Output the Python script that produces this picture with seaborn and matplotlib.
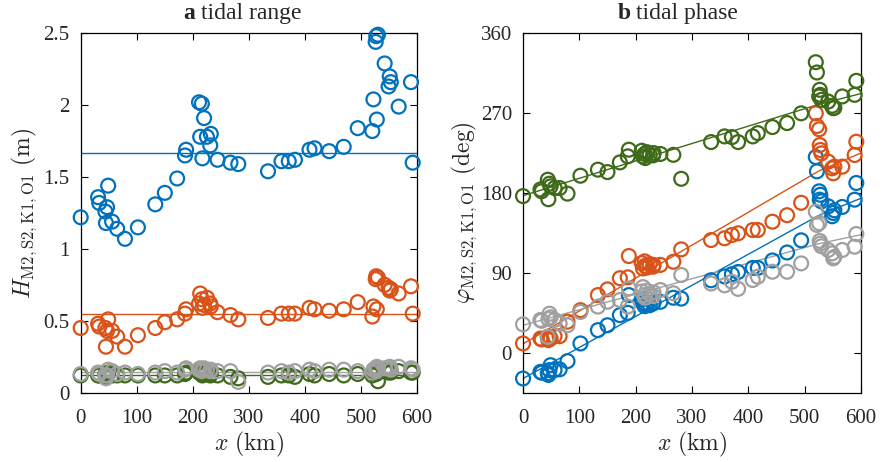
import numpy as np
import pandas as pd
import seaborn as sns
import matplotlib
matplotlib.use('Agg')
from matplotlib import pyplot as plt
from matplotlib.ticker import FormatStrFormatter

sns.set_style('ticks')
plt.rcParams['font.family'] = ['Liberation Serif', 'DejaVu Serif']
plt.rcParams['mathtext.fontset'] = 'cm'

# station positions along the estuary (km)
x_km = [0, 31, 33, 44, 45, 47, 49, 56, 65, 79, 102, 133, 150, 172, 186, 188,
        211, 213, 216, 217, 220, 225, 231, 232, 244, 267, 281, 334, 358, 371,
        382, 408, 417, 443, 469, 494, 520, 522, 526, 527, 528, 530, 542, 549,
        551, 553, 567, 589, 592]

# tidal range per constituent (m)
amp_m2 = [1.22, 1.36, 1.32, 1.26, 1.18, 1.29, 1.44, 1.19, 1.14, 1.07, 1.15, 1.31,
          1.39, 1.49, 1.65, 1.69, 2.02, 1.78, 2.01, 1.63, 1.91, 1.78, 1.72, 1.80,
          1.62, 1.60, 1.59, 1.54, 1.61, 1.61, 1.62, 1.69, 1.70, 1.68, 1.71, 1.84,
          1.82, 2.04, 2.44, 2.48, 1.90, 2.49, 2.29, 2.13, 2.20, 2.16, 1.99, 2.16, 1.60]
amp_s2 = [0.45, 0.48, 0.46, 0.45, 0.32, 0.43, 0.51, 0.43, 0.39, 0.32, 0.40, 0.45,
          0.49, 0.51, 0.55, 0.58, 0.62, 0.69, 0.65, 0.59, 0.61, 0.66, 0.62, 0.60,
          0.56, 0.54, 0.51, 0.52, 0.55, 0.55, 0.55, 0.59, 0.58, 0.57, 0.58, 0.63,
          0.53, 0.60, 0.79, 0.81, 0.58, 0.80, 0.75, 0.73, 0.71, 0.72, 0.69, 0.74, 0.55]
amp_k1 = [0.12, 0.12, 0.12, 0.13, 0.11, 0.13, 0.14, 0.12, 0.12, 0.12, 0.12, 0.12,
          0.12, 0.12, 0.13, 0.14, 0.14, 0.15, 0.13, 0.12, 0.13, 0.14, 0.12, 0.13,
          0.12, 0.11, 0.10, 0.11, 0.12, 0.12, 0.11, 0.13, 0.12, 0.13, 0.12, 0.13,
          0.12, 0.14, 0.15, 0.13, 0.15, 0.08, 0.15, 0.14, 0.15, 0.14, 0.15, 0.14, 0.14]
amp_o1 = [0.13, 0.14, 0.13, 0.12, 0.10, 0.12, 0.16, 0.15, 0.13, 0.14, 0.13, 0.14,
          0.15, 0.14, 0.16, 0.17, 0.16, 0.17, 0.15, 0.16, 0.17, 0.16, 0.15, 0.16,
          0.15, 0.15, 0.075, 0.14, 0.15, 0.14, 0.15, 0.16, 0.15, 0.16, 0.16, 0.15,
          0.14, 0.16, 0.17, 0.15, 0.18, 0.17, 0.17, 0.17, 0.18, 0.16, 0.18, 0.17, 0.16]
amp_mean = [1.665, 0.548, 0.12, 0.144]

# tidal phase per constituent (deg)
pha_m2 = [-29, -21.5, -22.5, -23, -25, -19.5, -14, -19.5, -18.7, -9.4, 10.5, 25.5,
          31, 42.4, 45, 65, 60, 56, 52.5, 55, 54, 53.6, 55.5, 57, 57.4, 62, 61,
          81.7, 86, 88.5, 91, 95.6, 95.6, 104, 113, 126.7, 220.5, 204.4, 181.9,
          172.5, 178, 170.6, 165, 153.8, 157.5, 160.5, 164.3, 172.5, 191.3]
pha_s2 = [10.5, 16, 15, 18, 14.3, 18, 16, 18.7, 18.7, 35, 48, 65, 71.4, 84, 85,
          109, 101, 95, 103, 98, 96, 100, 97, 99, 99, 102.6, 116.5, 127, 129,
          132.7, 134.6, 138.3, 138.3, 147.7, 155, 169, 269.8, 255.5, 251.8, 234,
          228.5, 224.7, 215.3, 207.8, 202.2, 209.7, 209.7, 222.8, 237.8]
pha_k1 = [176.5, 184, 182, 195, 173, 190.5, 187.5, 185.6, 185.6, 179.3, 199.5,
          206.3, 203.6, 214.5, 221.3, 228.8, 227.6, 221.3, 224, 219.4, 226, 223,
          222.4, 225, 224, 223, 196, 237.4, 243.8, 243, 237.4, 243.8, 247.5, 254.3,
          258.8, 269.8, 327.4, 315.8, 288.8, 296.3, 290.6, 285, 283, 278.3, 275.6,
          276, 288.8, 290.6, 306.4]
pha_o1 = [32, 37, 36, 18, 38, 44, 40, 37, 33, 31, 46, 52, 57.5, 59.4, 52, 72.6,
          69, 74, 65, 62, 70, 66, 64, 68, 70.7, 67, 87.6, 78, 76, 80, 72, 82, 85.7,
          91.3, 91.3, 100.7, 159, 144, 146, 126, 123, 120, 115.8, 112, 106.4, 108,
          115.8, 119.5, 133.8]

# piecewise fitted phase lines
fit_x = [0, 526, 600]
fit_m2 = [-29, 155, 174]
fit_s2 = [10, 205, 225]
fit_k1 = [177, 280, 292]
fit_o1 = [31, 123, 133]

colors = ['#0072BD', '#D95319', '#3E6A1A', '#A0A0A0']

fig = plt.figure(figsize=(8.82, 4.62), dpi=100)
ax1 = fig.add_axes([0.0915, 0.150, 0.3815, 0.778])
ax2 = fig.add_axes([0.593, 0.150, 0.383, 0.778])

amps = [amp_m2, amp_s2, amp_k1, amp_o1]
phas = [pha_m2, pha_s2, pha_k1, pha_o1]
fits = [fit_m2, fit_s2, fit_k1, fit_o1]

for vals, m, c in zip(amps, amp_mean, colors):
    sns.lineplot(x=[0, 600], y=[m, m], ax=ax1, color=c, lw=1.0)
    sns.scatterplot(x=x_km, y=vals, ax=ax1, s=100, facecolors='none',
                    edgecolor=c, linewidth=1.6, zorder=3, clip_on=False)

for vals, f, c in zip(phas, fits, colors):
    sns.lineplot(x=fit_x, y=f, ax=ax2, color=c, lw=1.0)
    sns.scatterplot(x=x_km, y=vals, ax=ax2, s=100, facecolors='none',
                    edgecolor=c, linewidth=1.6, zorder=3, clip_on=False)

ax1.set_xlim(0, 600)
ax1.set_ylim(0, 2.5)
ax1.set_yticks([0, 0.5, 1, 1.5, 2, 2.5])
ax1.yaxis.set_major_formatter(FormatStrFormatter('%g'))
ax2.set_xlim(0, 600)
ax2.set_ylim(-45, 360)
ax2.set_yticks([0, 90, 180, 270, 360])

for ax in [ax1, ax2]:
    ax.set_xticks(range(0, 601, 100))
    ax.tick_params(direction='in', top=True, right=True, length=5, width=0.8,
                   labelsize=15, color='black')
    ax.tick_params(axis='x', pad=12)
    ax.tick_params(axis='y', pad=8)
    for sp in ax.spines.values():
        sp.set_visible(True)
        sp.set_linewidth(0.9)
        sp.set_color('black')
    ax.set_xlabel(r'$x\ \mathrm{(km)}$', fontsize=17, labelpad=1)

ax1.set_ylabel(r'$H_{\mathrm{M2,S2,K1,O1}}\ \mathrm{(m)}$', fontsize=17, labelpad=3)
ax2.set_ylabel(r'$\varphi_{\mathrm{M2,S2,K1,O1}}\ \mathrm{(deg)}$', fontsize=17, labelpad=1)

# titles: bold panel letter + plain text
ax1.text(0.34, 1.025, 'a', transform=ax1.transAxes, ha='right', va='bottom',
         fontsize=17, fontweight='bold')
ax1.text(0.358, 1.025, 'tidal range', transform=ax1.transAxes, ha='left',
         va='bottom', fontsize=17)
ax2.text(0.318, 1.025, 'b', transform=ax2.transAxes, ha='right', va='bottom',
         fontsize=17, fontweight='bold')
ax2.text(0.335, 1.025, 'tidal phase', transform=ax2.transAxes, ha='left',
         va='bottom', fontsize=17)

fig.savefig('out.png', dpi=100)
